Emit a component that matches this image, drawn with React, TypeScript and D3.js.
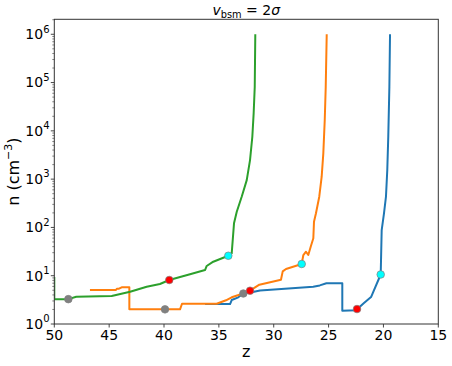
import React from "react";
import * as d3 from "d3";

// ---- data ----
const xTicks = [50, 45, 40, 35, 30, 25, 20, 15];
const yTickExps = [0, 1, 2, 3, 4, 5, 6];

const blueZ = [36.26, 33.98, 33.83, 33.23, 32.77, 32.01, 31.25, 26.4, 25.8, 25.2, 23.75, 23.75, 22.5, 21.8, 21.13, 20.25, 20.16, 19.95, 19.77, 19.65, 19.56, 19.46, 19.4];
const blueN = [2.59, 2.59, 3.14, 3.57, 4.28, 4.53, 4.94, 5.92, 6.3, 6.96, 6.96, 1.88, 1.92, 2.68, 3.62, 10.6, 88.3, 195, 432, 1549, 7586, 81300, 1e6];

const orangeZ = [46.75, 44.38, 44.3, 44.1, 43.86, 43.16, 43.16, 38.54, 38.36, 35.2, 34.35, 33.83, 32.71, 32.16, 31.31, 29.34, 29.18, 28.88, 27.45, 27.3, 27.06, 26.85, 26.63, 26.39, 26.33, 26.15, 25.85, 25.63, 25.48, 25.35, 25.26, 25.17];
const orangeN = [5.06, 5.06, 5.38, 5.38, 5.75, 5.75, 2.01, 2.01, 2.63, 2.63, 3.1, 3.57, 4.32, 4.89, 6.51, 8.26, 12.3, 13.8, 17.5, 26.8, 31.4, 26.8, 39.9, 59.5, 131, 196, 432, 1122, 3420, 16750, 81900, 1e6];

const greenZ = [50, 50, 48.72, 48.0, 44.77, 43.09, 41.58, 40.37, 39.52, 37.63, 36.26, 36.11, 35.51, 34.14, 33.83, 33.62, 33.37, 32.92, 32.46, 32.16, 31.95, 31.83, 31.73, 31.68];
const greenN = [9.4, 3.27, 3.27, 3.67, 3.8, 4.67, 5.92, 6.73, 8.15, 10.7, 13.1, 15.9, 19.5, 25.9, 29.1, 121.6, 211, 432, 955, 2484, 7550, 23000, 81900, 1e6];

const grayZ = [48.72, 39.91, 32.77];
const grayN = [3.27, 2.01, 4.28];
const redZ = [39.52, 32.16, 22.41];
const redN = [8.15, 4.89, 2.04];
const cyanZ = [34.14, 27.45, 20.25];
const cyanN = [25.9, 17.5, 10.6];

const W = 452;
const H = 366;
const left = 54.3;
const right = 438.3;
const top = 19.3;
const bottom = 324;

const FONT = "'DejaVu Sans', sans-serif";

export default function App() {
  const x = d3.scaleLinear().domain([50, 15]).range([left, right]);
  const y = d3.scaleLog().domain([1, Math.pow(10, 6.31)]).range([bottom, top]);

  const line = d3
    .line<[number, number]>()
    .x((d) => x(d[0]))
    .y((d) => y(d[1]));

  const series = [
    { z: blueZ, n: blueN, color: "#1f77b4" },
    { z: orangeZ, n: orangeN, color: "#ff7f0e" },
    { z: greenZ, n: greenN, color: "#2ca02c" },
  ];

  const markers = [
    { z: grayZ, n: grayN, color: "#808080" },
    { z: redZ, n: redN, color: "#ff0000" },
    { z: cyanZ, n: cyanN, color: "#00ffff" },
  ];

  const minorTicks: number[] = [];
  for (let e = 0; e < 7; e++) {
    for (let m = 2; m <= 9; m++) {
      const v = m * Math.pow(10, e);
      if (v <= Math.pow(10, 6.31)) minorTicks.push(v);
    }
  }

  return (
    <svg
      width={W}
      height={H}
      style={{ position: "absolute", left: 0, top: 0, background: "#fff" }}
      fontFamily={FONT}
    >
      <defs>
        <clipPath id="plotclip">
          <rect x={left} y={top} width={right - left} height={bottom - top} />
        </clipPath>
      </defs>
      <rect x={0} y={0} width={W} height={H} fill="#fff" />

      <g clipPath="url(#plotclip)">
        {series.map((s, i) => (
          <path
            key={i}
            d={line(s.z.map((z, j) => [z, s.n[j]] as [number, number])) || ""}
            fill="none"
            stroke={s.color}
            strokeWidth={2}
            strokeLinejoin="round"
          />
        ))}
        {markers.map((m, i) =>
          m.z.map((z, j) => (
            <circle
              key={i + "-" + j}
              cx={x(z)}
              cy={y(m.n[j])}
              r={3.8}
              fill={m.color}
              stroke="#808080"
              strokeWidth={0.7}
            />
          ))
        )}
      </g>

      {/* spines */}
      <rect
        x={left}
        y={top}
        width={right - left}
        height={bottom - top}
        fill="none"
        stroke="#333"
        strokeWidth={1}
      />

      {/* x ticks */}
      {xTicks.map((t) => (
        <g key={t}>
          <line x1={x(t)} x2={x(t)} y1={bottom} y2={bottom + 3.5} stroke="#333" strokeWidth={0.9} />
          <text x={x(t)} y={339.7} fontSize={14} textAnchor="middle" fill="#000">
            {t}
          </text>
        </g>
      ))}

      {/* y ticks */}
      {yTickExps.map((e) => {
        const yy = y(Math.pow(10, e));
        return (
          <g key={e}>
            <line x1={left - 3.5} x2={left} y1={yy} y2={yy} stroke="#333" strokeWidth={0.9} />
            <text x={49.5} y={yy + 4.8} fontSize={14} textAnchor="end" fill="#000">
              10
              <tspan fontSize={10} dy={-6.5}>
                {e}
              </tspan>
            </text>
          </g>
        );
      })}
      {minorTicks.map((v, i) => (
        <line key={i} x1={left - 2} x2={left} y1={y(v)} y2={y(v)} stroke="#333" strokeWidth={0.6} />
      ))}

      {/* axis labels */}
      <text x={246.3} y={357} fontSize={16} textAnchor="middle" fill="#000">
        z
      </text>
      <text
        transform={`translate(18.5, ${(top + bottom) / 2}) rotate(-90)`}
        fontSize={16}
        textAnchor="middle"
        fill="#000"
      >
        n (cm
        <tspan fontSize={11} dy={-6.5}>
          −3
        </tspan>
        <tspan dy={6.5}>)</tspan>
      </text>

      {/* title */}
      <text x={246.3} y={15} fontSize={14} textAnchor="middle" fill="#000">
        <tspan fontStyle="italic">v</tspan>
        <tspan fontSize={9.8} dy={2.5}>
          bsm
        </tspan>
        <tspan dy={-2.5}>{" = 2"}</tspan>
        <tspan fontStyle="italic">σ</tspan>
      </text>
    </svg>
  );
}
